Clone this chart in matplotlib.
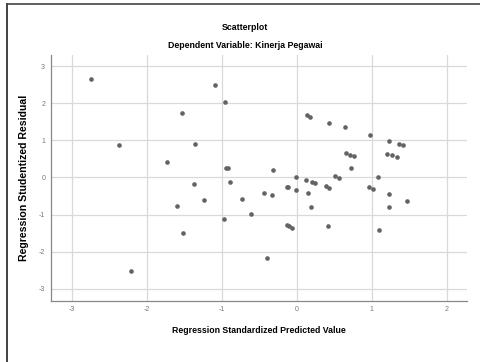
import matplotlib
matplotlib.use('Agg')
from matplotlib import pyplot as plt
from matplotlib.lines import Line2D

plt.rcParams['font.family'] = ['Liberation Sans', 'DejaVu Sans']
plt.rcParams['axes.unicode_minus'] = False

# Regression standardized predicted value (x) vs studentized residual (y)
predicted = [-2.74, -2.37, -1.73, -1.59, -2.21,
             -1.09, -0.95, -1.53, -1.35, -0.94, -0.92, -0.31, -0.01, -1.37, -0.89,
             -1.23, -0.73, -0.43, -0.33, -0.13, -0.11, -0.01, -0.97, -0.61, -1.51,
             -0.13, -0.10, -0.06, -0.39,
             0.14, 0.18, 0.43, 0.65, 0.98, 1.23, 0.66, 0.71, 0.76, 1.21,
             0.72, 0.13, 0.21, 0.24, 0.51, 0.57, 1.08, 0.15, 0.39, 0.43,
             0.96, 1.02, 1.23, 0.19, 1.23, 0.42, 1.10,
             1.36, 1.42, 1.27, 1.34, 1.47]
residual = [2.65, 0.88, 0.43, -0.76, -2.52,
            2.50, 2.03, 1.73, 0.90, 0.26, 0.25, 0.21, 0.01, -0.17, -0.11,
            -0.60, -0.58, -0.41, -0.48, -0.25, -0.26, -0.33, -1.12, -0.99, -1.50,
            -1.29, -1.31, -1.35, -2.17,
            1.68, 1.64, 1.48, 1.36, 1.14, 0.98, 0.65, 0.61, 0.58, 0.64,
            0.25, -0.08, -0.12, -0.15, 0.03, -0.01, 0.01, -0.43, -0.24, -0.27,
            -0.26, -0.30, -0.44, -0.80, -0.79, -1.31, -1.41,
            0.90, 0.88, 0.60, 0.55, -0.63]
xticks = [-3, -2, -1, 0, 1, 2]
yticks = [-3, -2, -1, 0, 1, 2, 3]

fig = plt.figure(figsize=(4.81, 3.62), dpi=100)
ax = fig.add_axes([0.1054, 0.1693, 0.8649, 0.6787])

ax.scatter(predicted, residual, s=11, color='#636363', zorder=3, linewidths=0)

ax.set_xlim(-3.28, 2.267)
ax.set_ylim(-3.32, 3.30)
ax.set_xticks(xticks)
ax.set_yticks(yticks)
ax.grid(True, color='#d9d9d9', linewidth=0.9)
ax.set_axisbelow(True)
ax.tick_params(length=0, labelsize=5, colors='#777777', pad=4)

for side in ['top', 'right']:
    ax.spines[side].set_visible(False)
for side in ['left', 'bottom']:
    ax.spines[side].set_color('#888888')
    ax.spines[side].set_linewidth(0.9)

ax.set_xlabel('Regression Standardized Predicted Value', fontsize=6.3,
              fontweight='bold', labelpad=9)
ax.set_ylabel('Regression Studentized Residual', fontsize=7.6,
              fontweight='bold', labelpad=7)

fig.text(245 / 481, 1 - 27 / 362, 'Scatterplot', ha='center', va='center',
         fontsize=6.3, fontweight='bold')
fig.text(245 / 481, 1 - 45 / 362, 'Dependent Variable: Kinerja Pegawai',
         ha='center', va='center', fontsize=6.3, fontweight='bold')

# screenshot border (left and top)
fig.add_artist(Line2D([6.5 / 481, 6.5 / 481], [0, 1 - 4 / 362],
                      color='#222222', linewidth=1.2))
fig.add_artist(Line2D([6.5 / 481, 1], [1 - 4 / 362, 1 - 4 / 362],
                      color='#444444', linewidth=1.2))

plt.savefig('out.png', dpi=100)
